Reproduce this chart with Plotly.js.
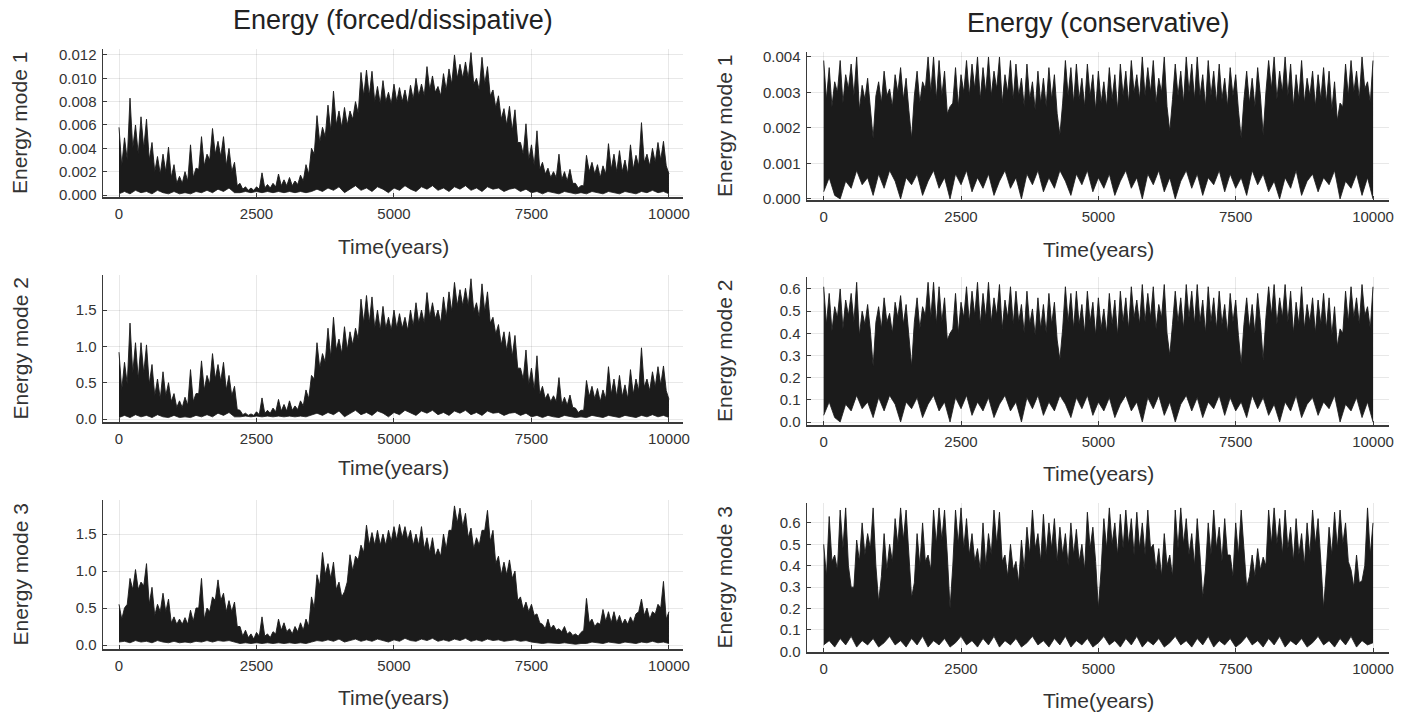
<!DOCTYPE html>
<html><head><meta charset="utf-8">
<script src="https://cdn.plot.ly/plotly-3.0.1.min.js"></script>
<style>html,body{margin:0;padding:0;background:#fff}#chart{width:1424px;height:717px}</style>
</head><body><div id="chart"></div>
<script>
// ---------------- data ----------------
const years = [
  0,100,200,300,400,500,600,700,800,900,
  1000,1100,1200,1300,1400,1500,1600,1700,1800,1900,
  2000,2100,2200,2300,2400,2500,2600,2700,2800,2900,
  3000,3100,3200,3300,3400,3500,3600,3700,3800,3900,
  4000,4100,4200,4300,4400,4500,4600,4700,4800,4900,
  5000,5100,5200,5300,5400,5500,5600,5700,5800,5900,
  6000,6100,6200,6300,6400,6500,6600,6700,6800,6900,
  7000,7100,7200,7300,7400,7500,7600,7700,7800,7900,
  8000,8100,8200,8300,8400,8500,8600,8700,8800,8900,
  9000,9100,9200,9300,9400,9500,9600,9700,9800,9900,
  10000];
const midYears = [
  50,150,250,350,450,550,650,750,850,950,
  1050,1150,1250,1350,1450,1550,1650,1750,1850,1950,
  2050,2150,2250,2350,2450,2550,2650,2750,2850,2950,
  3050,3150,3250,3350,3450,3550,3650,3750,3850,3950,
  4050,4150,4250,4350,4450,4550,4650,4750,4850,4950,
  5050,5150,5250,5350,5450,5550,5650,5750,5850,5950,
  6050,6150,6250,6350,6450,6550,6650,6750,6850,6950,
  7050,7150,7250,7350,7450,7550,7650,7750,7850,7950,
  8050,8150,8250,8350,8450,8550,8650,8750,8850,8950,
  9050,9150,9250,9350,9450,9550,9650,9750,9850,9950];

// Energy (forced/dissipative): spike tops (Hi, at years), solid body level (Core, at midYears), bottom (Lo, at years)
const forcedMode1Hi = [
  0.0058,0.0049,0.0083,0.0060,0.0067,0.0065,0.0045,0.0033,0.0035,0.0041,
  0.0026,0.0016,0.0020,0.0043,0.0023,0.0050,0.0035,0.0057,0.0046,0.0050,
  0.0040,0.0028,0.0010,0.0007,0.0006,0.0007,0.0019,0.0009,0.0010,0.0018,
  0.0013,0.0015,0.0012,0.0017,0.0026,0.0040,0.0068,0.0058,0.0077,0.0089,
  0.0072,0.0075,0.0072,0.0080,0.0105,0.0107,0.0106,0.0093,0.0098,0.0088,
  0.0095,0.0092,0.0090,0.0094,0.0100,0.0095,0.0110,0.0102,0.0093,0.0104,
  0.0108,0.0120,0.0112,0.0114,0.0122,0.0100,0.0118,0.0110,0.0090,0.0085,
  0.0074,0.0076,0.0073,0.0045,0.0061,0.0043,0.0055,0.0028,0.0023,0.0020,
  0.0035,0.0020,0.0022,0.0010,0.0008,0.0034,0.0028,0.0026,0.0025,0.0044,
  0.0035,0.0038,0.0030,0.0043,0.0034,0.0062,0.0035,0.0040,0.0045,0.0046,
  0.0018];
const forcedMode1Core = [
  0.0025,0.0030,0.0040,0.0035,0.0040,0.0030,0.0020,0.0018,0.0020,0.0015,
  0.0010,0.0010,0.0012,0.0015,0.0022,0.0025,0.0030,0.0035,0.0033,0.0025,
  0.0020,0.0008,0.0005,0.0004,0.0004,0.0005,0.0006,0.0006,0.0007,0.0008,
  0.0008,0.0008,0.0009,0.0012,0.0018,0.0035,0.0045,0.0050,0.0055,0.0060,
  0.0058,0.0060,0.0065,0.0070,0.0085,0.0085,0.0080,0.0078,0.0080,0.0078,
  0.0080,0.0080,0.0078,0.0082,0.0085,0.0085,0.0090,0.0088,0.0085,0.0090,
  0.0095,0.0100,0.0100,0.0100,0.0095,0.0090,0.0095,0.0085,0.0075,0.0065,
  0.0060,0.0055,0.0045,0.0035,0.0030,0.0025,0.0022,0.0018,0.0015,0.0015,
  0.0013,0.0012,0.0010,0.0006,0.0008,0.0020,0.0018,0.0015,0.0018,0.0022,
  0.0020,0.0020,0.0018,0.0022,0.0025,0.0028,0.0025,0.0028,0.0030,0.0025];
const forcedMode1Lo = [
  0.0001,0.0003,0.0001,0.0004,0.0002,0.0003,0.0001,0.0004,0.0002,0.0001,
  0.0003,0.0001,0.0002,0.0001,0.0003,0.0002,0.0004,0.0002,0.0005,0.0003,
  0.0006,0.0002,0.0002,0.0003,0.0002,0.0003,0.0002,0.0003,0.0002,0.0003,
  0.0002,0.0003,0.0002,0.0003,0.0002,0.0003,0.0005,0.0003,0.0006,0.0004,
  0.0007,0.0002,0.0005,0.0008,0.0004,0.0006,0.0003,0.0007,0.0005,0.0002,
  0.0006,0.0004,0.0008,0.0005,0.0003,0.0007,0.0005,0.0008,0.0004,0.0006,
  0.0003,0.0007,0.0005,0.0008,0.0004,0.0006,0.0003,0.0007,0.0005,0.0006,
  0.0003,0.0005,0.0006,0.0003,0.0005,0.0002,0.0003,0.0001,0.0003,0.0002,
  0.0001,0.0003,0.0002,0.0001,0.0002,0.0001,0.0003,0.0002,0.0001,0.0003,
  0.0002,0.0001,0.0003,0.0002,0.0001,0.0003,0.0002,0.0004,0.0002,0.0003,
  0.0001];
const forcedMode2Hi = [
  0.92,0.78,1.32,1.05,1.05,1.02,0.75,0.55,0.65,0.50,
  0.35,0.25,0.30,0.68,0.35,0.80,0.60,0.90,0.75,0.78,
  0.60,0.45,0.12,0.08,0.07,0.10,0.29,0.12,0.15,0.27,
  0.20,0.25,0.18,0.25,0.40,0.60,1.05,0.90,1.25,1.40,
  1.10,1.27,1.20,1.25,1.65,1.70,1.68,1.50,1.55,1.40,
  1.50,1.45,1.40,1.50,1.60,1.50,1.74,1.60,1.50,1.68,
  1.75,1.88,1.78,1.80,1.93,1.60,1.86,1.75,1.40,1.30,
  1.20,1.20,1.15,0.70,0.95,0.70,0.87,0.45,0.35,0.32,
  0.57,0.30,0.33,0.15,0.12,0.53,0.45,0.42,0.40,0.72,
  0.55,0.60,0.47,0.68,0.55,0.98,0.55,0.65,0.72,0.73,
  0.27];
const forcedMode2Core = [
  0.40,0.48,0.63,0.55,0.63,0.48,0.32,0.28,0.32,0.24,
  0.16,0.16,0.19,0.24,0.35,0.40,0.48,0.55,0.52,0.40,
  0.32,0.13,0.06,0.05,0.05,0.06,0.08,0.08,0.10,0.11,
  0.11,0.12,0.13,0.18,0.28,0.55,0.70,0.78,0.85,0.95,
  0.90,0.95,1.02,1.10,1.32,1.32,1.25,1.22,1.25,1.22,
  1.25,1.25,1.22,1.28,1.32,1.32,1.40,1.38,1.32,1.40,
  1.48,1.56,1.56,1.56,1.48,1.40,1.48,1.32,1.17,1.02,
  0.94,0.86,0.70,0.55,0.47,0.40,0.34,0.28,0.24,0.24,
  0.20,0.19,0.16,0.09,0.12,0.31,0.28,0.24,0.28,0.34,
  0.31,0.31,0.28,0.34,0.39,0.44,0.39,0.44,0.47,0.39];
const forcedMode2Lo = [
  0.02,0.05,0.02,0.06,0.03,0.05,0.02,0.06,0.03,0.02,
  0.05,0.02,0.03,0.02,0.05,0.03,0.06,0.03,0.08,0.05,
  0.09,0.03,0.03,0.04,0.03,0.04,0.03,0.04,0.03,0.04,
  0.03,0.04,0.03,0.04,0.03,0.05,0.08,0.05,0.09,0.06,
  0.11,0.03,0.08,0.12,0.06,0.09,0.05,0.11,0.08,0.03,
  0.09,0.06,0.12,0.08,0.05,0.11,0.08,0.12,0.06,0.09,
  0.05,0.11,0.08,0.12,0.06,0.09,0.05,0.11,0.08,0.09,
  0.05,0.08,0.09,0.05,0.08,0.03,0.05,0.02,0.05,0.03,
  0.02,0.05,0.03,0.02,0.03,0.02,0.05,0.03,0.02,0.05,
  0.03,0.02,0.05,0.03,0.02,0.05,0.03,0.06,0.03,0.05,
  0.02];
const forcedMode3Hi = [
  0.55,0.50,0.90,1.02,0.85,1.10,0.78,0.55,0.70,0.62,
  0.38,0.35,0.37,0.47,0.50,0.90,0.50,0.65,0.88,0.70,
  0.60,0.58,0.25,0.20,0.15,0.17,0.38,0.15,0.18,0.35,
  0.30,0.22,0.25,0.30,0.35,0.65,0.95,1.25,1.10,1.12,
  0.85,0.72,1.22,1.20,1.35,1.62,1.52,1.55,1.50,1.55,
  1.60,1.63,1.60,1.55,1.50,1.60,1.45,1.45,1.30,1.50,
  1.55,1.88,1.85,1.78,1.58,1.45,1.55,1.82,1.55,1.20,
  1.12,1.15,1.00,0.65,0.58,0.55,0.42,0.28,0.35,0.27,
  0.22,0.25,0.18,0.15,0.17,0.63,0.35,0.30,0.48,0.45,
  0.45,0.40,0.35,0.38,0.42,0.62,0.50,0.45,0.55,0.86,
  0.45];
const forcedMode3Core = [
  0.35,0.55,0.75,0.75,0.80,0.55,0.40,0.45,0.45,0.30,
  0.28,0.28,0.28,0.32,0.50,0.35,0.45,0.60,0.60,0.45,
  0.45,0.25,0.12,0.10,0.08,0.12,0.12,0.10,0.15,0.20,
  0.18,0.15,0.18,0.20,0.25,0.50,0.80,0.95,0.90,0.75,
  0.65,0.85,1.00,1.15,1.25,1.35,1.35,1.35,1.35,1.40,
  1.42,1.45,1.42,1.35,1.35,1.30,1.25,1.20,1.20,1.30,
  1.55,1.65,1.60,1.45,1.30,1.35,1.55,1.40,1.10,0.95,
  0.95,0.90,0.60,0.48,0.45,0.40,0.30,0.22,0.22,0.20,
  0.18,0.15,0.13,0.12,0.20,0.30,0.25,0.28,0.32,0.30,
  0.30,0.28,0.28,0.30,0.45,0.40,0.35,0.42,0.50,0.35];
const forcedMode3Lo = [
  0.04,0.05,0.03,0.06,0.04,0.05,0.03,0.06,0.04,0.03,
  0.05,0.03,0.04,0.03,0.05,0.04,0.06,0.04,0.06,0.05,
  0.06,0.04,0.02,0.03,0.02,0.03,0.02,0.03,0.02,0.03,
  0.02,0.03,0.02,0.03,0.02,0.04,0.06,0.05,0.07,0.05,
  0.08,0.04,0.06,0.08,0.05,0.07,0.05,0.08,0.06,0.04,
  0.07,0.05,0.09,0.06,0.05,0.08,0.06,0.09,0.05,0.07,
  0.05,0.08,0.06,0.09,0.05,0.07,0.05,0.08,0.06,0.07,
  0.05,0.06,0.07,0.05,0.06,0.04,0.03,0.02,0.03,0.02,
  0.02,0.03,0.02,0.01,0.02,0.02,0.04,0.03,0.02,0.04,
  0.03,0.02,0.04,0.03,0.02,0.04,0.03,0.05,0.03,0.04,
  0.02];

// Energy (conservative)
const consMode1Hi = [
  0.0039,0.0037,0.0033,0.0039,0.0035,0.0038,0.0040,0.0032,0.0034,0.0017,
  0.0033,0.0036,0.0031,0.0035,0.0037,0.0034,0.0017,0.0036,0.0033,0.0040,
  0.0040,0.0039,0.0036,0.0026,0.0037,0.0035,0.0039,0.0038,0.0040,0.0037,
  0.0040,0.0036,0.0040,0.0035,0.0039,0.0038,0.0034,0.0038,0.0033,0.0036,
  0.0034,0.0037,0.0035,0.0018,0.0039,0.0037,0.0038,0.0034,0.0038,0.0035,
  0.0036,0.0033,0.0037,0.0035,0.0038,0.0036,0.0039,0.0035,0.0040,0.0037,
  0.0039,0.0034,0.0040,0.0019,0.0038,0.0036,0.0040,0.0038,0.0040,0.0035,
  0.0039,0.0036,0.0038,0.0034,0.0037,0.0035,0.0017,0.0036,0.0034,0.0037,
  0.0018,0.0039,0.0040,0.0036,0.0040,0.0038,0.0035,0.0039,0.0034,0.0036,
  0.0035,0.0037,0.0036,0.0033,0.0027,0.0038,0.0039,0.0036,0.0040,0.0033,
  0.0039];
const consMode1Core = [
  0.0028,0.0026,0.0030,0.0027,0.0031,0.0029,0.0025,0.0028,0.0026,0.0029,
  0.0027,0.0029,0.0026,0.0030,0.0028,0.0025,0.0029,0.0027,0.0031,0.0030,
  0.0028,0.0029,0.0024,0.0027,0.0026,0.0030,0.0029,0.0031,0.0028,0.0030,
  0.0029,0.0031,0.0027,0.0030,0.0028,0.0029,0.0026,0.0028,0.0025,0.0027,
  0.0026,0.0028,0.0024,0.0027,0.0029,0.0027,0.0028,0.0026,0.0029,0.0025,
  0.0027,0.0026,0.0028,0.0025,0.0029,0.0027,0.0030,0.0028,0.0029,0.0030,
  0.0027,0.0030,0.0026,0.0028,0.0029,0.0027,0.0030,0.0028,0.0029,0.0026,
  0.0029,0.0027,0.0028,0.0026,0.0029,0.0025,0.0028,0.0027,0.0026,0.0029,
  0.0030,0.0031,0.0028,0.0030,0.0029,0.0026,0.0028,0.0027,0.0029,0.0026,
  0.0028,0.0027,0.0025,0.0022,0.0026,0.0029,0.0030,0.0028,0.0031,0.0027];
const consMode1Lo = [
  0.0002,0.0006,0.0001,0.0000,0.0005,0.0003,0.0008,0.0004,0.0006,0.0001,
  0.0007,0.0003,0.0008,0.0005,0.0000,0.0006,0.0004,0.0007,0.0001,0.0005,
  0.0008,0.0003,0.0006,0.0000,0.0007,0.0004,0.0008,0.0002,0.0006,0.0003,
  0.0007,0.0001,0.0005,0.0008,0.0003,0.0006,0.0000,0.0007,0.0004,0.0008,
  0.0002,0.0006,0.0003,0.0008,0.0005,0.0001,0.0007,0.0004,0.0008,0.0002,
  0.0006,0.0003,0.0007,0.0001,0.0005,0.0008,0.0003,0.0006,0.0000,0.0007,
  0.0004,0.0008,0.0002,0.0006,0.0000,0.0005,0.0008,0.0003,0.0007,0.0001,
  0.0006,0.0004,0.0008,0.0002,0.0007,0.0003,0.0006,0.0001,0.0008,0.0004,
  0.0007,0.0002,0.0005,0.0000,0.0006,0.0003,0.0008,0.0001,0.0005,0.0007,
  0.0002,0.0006,0.0004,0.0008,0.0000,0.0005,0.0003,0.0007,0.0001,0.0006,
  0.0000];
const consMode2Hi = [
  0.61,0.58,0.52,0.60,0.55,0.58,0.63,0.50,0.53,0.25,
  0.52,0.56,0.49,0.54,0.57,0.53,0.25,0.56,0.52,0.63,
  0.63,0.61,0.56,0.40,0.58,0.54,0.61,0.59,0.63,0.58,
  0.63,0.56,0.62,0.55,0.61,0.59,0.53,0.59,0.51,0.56,
  0.53,0.58,0.54,0.28,0.61,0.58,0.59,0.53,0.59,0.54,
  0.56,0.51,0.58,0.55,0.59,0.56,0.61,0.55,0.62,0.58,
  0.61,0.53,0.62,0.30,0.59,0.56,0.62,0.59,0.62,0.55,
  0.61,0.56,0.59,0.53,0.58,0.55,0.26,0.56,0.53,0.58,
  0.28,0.61,0.62,0.56,0.62,0.59,0.54,0.61,0.53,0.56,
  0.55,0.58,0.56,0.52,0.42,0.59,0.61,0.56,0.62,0.52,
  0.61];
const consMode2Core = [
  0.44,0.41,0.47,0.42,0.48,0.45,0.39,0.44,0.41,0.45,
  0.42,0.45,0.40,0.47,0.44,0.39,0.45,0.42,0.48,0.47,
  0.44,0.45,0.37,0.42,0.40,0.47,0.45,0.48,0.44,0.47,
  0.45,0.48,0.42,0.47,0.44,0.45,0.40,0.44,0.39,0.42,
  0.40,0.44,0.37,0.42,0.45,0.42,0.44,0.40,0.45,0.39,
  0.42,0.40,0.44,0.39,0.45,0.42,0.47,0.44,0.45,0.47,
  0.42,0.47,0.40,0.44,0.45,0.42,0.47,0.44,0.45,0.40,
  0.45,0.42,0.44,0.40,0.45,0.39,0.44,0.42,0.40,0.45,
  0.47,0.48,0.44,0.47,0.45,0.40,0.44,0.42,0.45,0.40,
  0.44,0.42,0.39,0.34,0.40,0.45,0.47,0.44,0.48,0.42];
const consMode2Lo = [
  0.03,0.09,0.02,0.00,0.08,0.05,0.12,0.06,0.09,0.02,
  0.11,0.05,0.12,0.08,0.00,0.09,0.06,0.11,0.02,0.08,
  0.12,0.05,0.09,0.00,0.11,0.06,0.12,0.03,0.09,0.05,
  0.11,0.02,0.08,0.12,0.05,0.09,0.00,0.11,0.06,0.12,
  0.03,0.09,0.05,0.12,0.08,0.02,0.11,0.06,0.12,0.03,
  0.09,0.05,0.11,0.02,0.08,0.12,0.05,0.09,0.00,0.11,
  0.06,0.12,0.03,0.09,0.00,0.08,0.12,0.05,0.11,0.02,
  0.09,0.06,0.12,0.03,0.11,0.05,0.09,0.02,0.12,0.06,
  0.11,0.03,0.08,0.00,0.09,0.05,0.12,0.02,0.08,0.11,
  0.03,0.09,0.06,0.12,0.00,0.08,0.05,0.11,0.02,0.09,
  0.00];
const consMode3Hi = [
  0.50,0.63,0.45,0.66,0.67,0.30,0.52,0.60,0.55,0.67,
  0.23,0.55,0.50,0.62,0.67,0.66,0.25,0.55,0.60,0.45,
  0.66,0.67,0.66,0.20,0.66,0.67,0.62,0.55,0.48,0.60,
  0.55,0.66,0.65,0.45,0.50,0.42,0.52,0.58,0.66,0.55,
  0.64,0.60,0.62,0.58,0.55,0.60,0.57,0.50,0.65,0.58,
  0.20,0.62,0.67,0.60,0.64,0.66,0.62,0.65,0.60,0.66,
  0.50,0.48,0.55,0.45,0.66,0.67,0.62,0.55,0.62,0.25,
  0.60,0.66,0.58,0.62,0.45,0.60,0.66,0.30,0.45,0.48,
  0.44,0.66,0.67,0.62,0.66,0.58,0.62,0.55,0.60,0.66,
  0.62,0.20,0.58,0.65,0.66,0.60,0.38,0.45,0.33,0.67,
  0.60];
const consMode3Core = [
  0.35,0.42,0.38,0.48,0.40,0.30,0.42,0.45,0.48,0.40,
  0.35,0.38,0.42,0.50,0.52,0.45,0.32,0.40,0.42,0.38,
  0.50,0.52,0.45,0.40,0.50,0.48,0.45,0.42,0.38,0.40,
  0.45,0.50,0.42,0.35,0.38,0.32,0.38,0.45,0.48,0.42,
  0.45,0.48,0.42,0.45,0.40,0.45,0.42,0.38,0.48,0.42,
  0.38,0.48,0.50,0.45,0.48,0.50,0.45,0.48,0.45,0.48,
  0.38,0.35,0.40,0.35,0.48,0.50,0.45,0.40,0.45,0.38,
  0.45,0.48,0.42,0.45,0.35,0.45,0.48,0.35,0.35,0.38,
  0.40,0.50,0.50,0.45,0.48,0.42,0.45,0.40,0.45,0.50,
  0.42,0.38,0.45,0.48,0.50,0.42,0.30,0.32,0.40,0.45];
const consMode3Lo = [
  0.03,0.05,0.02,0.06,0.03,0.07,0.02,0.05,0.03,0.06,
  0.02,0.04,0.07,0.03,0.05,0.02,0.06,0.03,0.07,0.02,
  0.05,0.03,0.06,0.02,0.04,0.07,0.03,0.05,0.02,0.06,
  0.03,0.07,0.02,0.05,0.03,0.06,0.02,0.04,0.07,0.03,
  0.05,0.02,0.06,0.03,0.07,0.02,0.05,0.03,0.06,0.02,
  0.04,0.07,0.03,0.05,0.02,0.06,0.03,0.07,0.02,0.05,
  0.03,0.06,0.02,0.04,0.07,0.03,0.05,0.02,0.06,0.03,
  0.07,0.02,0.05,0.03,0.06,0.02,0.04,0.07,0.03,0.05,
  0.02,0.06,0.03,0.07,0.02,0.05,0.03,0.06,0.02,0.04,
  0.07,0.03,0.05,0.02,0.06,0.03,0.07,0.02,0.05,0.03,
  0.04];

// tick labels and texts
const timeTicks = [0, 2500, 5000, 7500, 10000];
const forcedMode1Ticks = [0, 0.002, 0.004, 0.006, 0.008, 0.010, 0.012];
const forcedMode23Ticks = [0, 0.5, 1.0, 1.5];
const consMode1Ticks = [0, 0.001, 0.002, 0.003, 0.004];
const consMode23Ticks = [0, 0.1, 0.2, 0.3, 0.4, 0.5, 0.6];
const columnTitles = ['Energy (forced/dissipative)', 'Energy (conservative)'];
const xLabel = 'Time(years)';
const yLabels = ['Energy mode 1', 'Energy mode 2', 'Energy mode 3'];

// ---------------- layout / styling ----------------
const W = 1424, H = 717;
const FONT = '"Liberation Sans", Arial, Helvetica, sans-serif';
const INK = '#1b1b1b';
const cols = [
  {px: [103, 683], range: [-291, 10255], center: 393, ytx: 20, titleY: 20},
  {px: [807, 1389], range: [-304, 10291], center: 1098, ytx: 724, titleY: 23}
];
const panels = [
  {hi: forcedMode1Hi, core: forcedMode1Core, lo: forcedMode1Lo, col: 0, row: 0, top: 49,  bot: 197, yr: [-0.00017, 0.01251], tv: forcedMode1Ticks,  fmt: '.3f', xl: 247},
  {hi: forcedMode2Hi, core: forcedMode2Core, lo: forcedMode2Lo, col: 0, row: 1, top: 275, bot: 422, yr: [-0.041, 1.982],     tv: forcedMode23Ticks, fmt: '.1f', xl: 467},
  {hi: forcedMode3Hi, core: forcedMode3Core, lo: forcedMode3Lo, col: 0, row: 2, top: 500, bot: 649, yr: [-0.054, 1.96],      tv: forcedMode23Ticks, fmt: '.1f', xl: 697},
  {hi: consMode1Hi,   core: consMode1Core,   lo: consMode1Lo,   col: 1, row: 0, top: 52,  bot: 200, yr: [-0.00003, 0.00414], tv: consMode1Ticks,    fmt: '.3f', xl: 249},
  {hi: consMode2Hi,   core: consMode2Core,   lo: consMode2Lo,   col: 1, row: 1, top: 277, bot: 425, yr: [-0.0135, 0.654],    tv: consMode23Ticks,   fmt: '.1f', xl: 473},
  {hi: consMode3Hi,   core: consMode3Core,   lo: consMode3Lo,   col: 1, row: 2, top: 503, bot: 652, yr: [-0.003, 0.693],     tv: consMode23Ticks,   fmt: '.1f', xl: 700}
];

function interleave(a, b) {
  const out = [];
  for (let i = 0; i < a.length; i++) { out.push(a[i]); if (i < b.length) out.push(b[i]); }
  return out;
}

const traces = [];
const layout = {
  width: W, height: H,
  margin: {l: 0, r: 0, t: 0, b: 0},
  paper_bgcolor: '#ffffff', plot_bgcolor: '#ffffff',
  showlegend: false,
  font: {family: FONT, color: '#333'},
  annotations: []
};

panels.forEach((p, i) => {
  const n = i + 1;
  const suf = n === 1 ? '' : String(n);
  const xa = 'x' + suf, ya = 'y' + suf;
  const c = cols[p.col];
  traces.push({x: years, y: p.lo, xaxis: xa, yaxis: ya, type: 'scatter', mode: 'lines',
               line: {color: INK, width: 0.8}, hoverinfo: 'skip'});
  traces.push({x: interleave(years, midYears), y: interleave(p.hi, p.core), xaxis: xa, yaxis: ya,
               type: 'scatter', mode: 'lines', fill: 'tonexty', fillcolor: INK,
               line: {color: INK, width: 0.9}});
  const common = {
    showgrid: true, gridcolor: 'rgba(0,0,0,0.09)', gridwidth: 1,
    zeroline: false, showline: true, linecolor: '#3a3a3a', linewidth: 1.5,
    ticks: 'inside', ticklen: 4, tickcolor: '#3a3a3a', tickwidth: 1,
    tickfont: {family: FONT, size: 15, color: '#333'}, mirror: false, fixedrange: true
  };
  layout['xaxis' + suf] = Object.assign({}, common, {
    domain: [c.px[0] / W, c.px[1] / W], range: c.range, anchor: ya,
    tickvals: timeTicks, tickformat: 'd', ticklabelstandoff: 2
  });
  layout['yaxis' + suf] = Object.assign({}, common, {
    domain: [1 - p.bot / H, 1 - p.top / H], range: p.yr, anchor: xa,
    tickvals: p.tv, tickformat: p.fmt, ticklabelstandoff: 2
  });
  layout.annotations.push({text: xLabel, x: c.center / W, y: 1 - p.xl / H, xref: 'paper', yref: 'paper',
    xanchor: 'center', yanchor: 'middle', showarrow: false, font: {family: FONT, size: 21, color: '#333'}});
  layout.annotations.push({text: yLabels[p.row], x: c.ytx / W, y: 1 - (p.top + p.bot) / 2 / H, xref: 'paper', yref: 'paper',
    xanchor: 'center', yanchor: 'middle', textangle: -90, showarrow: false, font: {family: FONT, size: 21, color: '#333'}});
});
cols.forEach((c, k) => {
  layout.annotations.push({text: columnTitles[k], x: c.center / W, y: 1 - c.titleY / H, xref: 'paper', yref: 'paper',
    xanchor: 'center', yanchor: 'middle', showarrow: false, font: {family: FONT, size: 27, color: '#222'}});
});

Plotly.newPlot('chart', traces, layout, {displayModeBar: false, staticPlot: true});
</script>
</body></html>
